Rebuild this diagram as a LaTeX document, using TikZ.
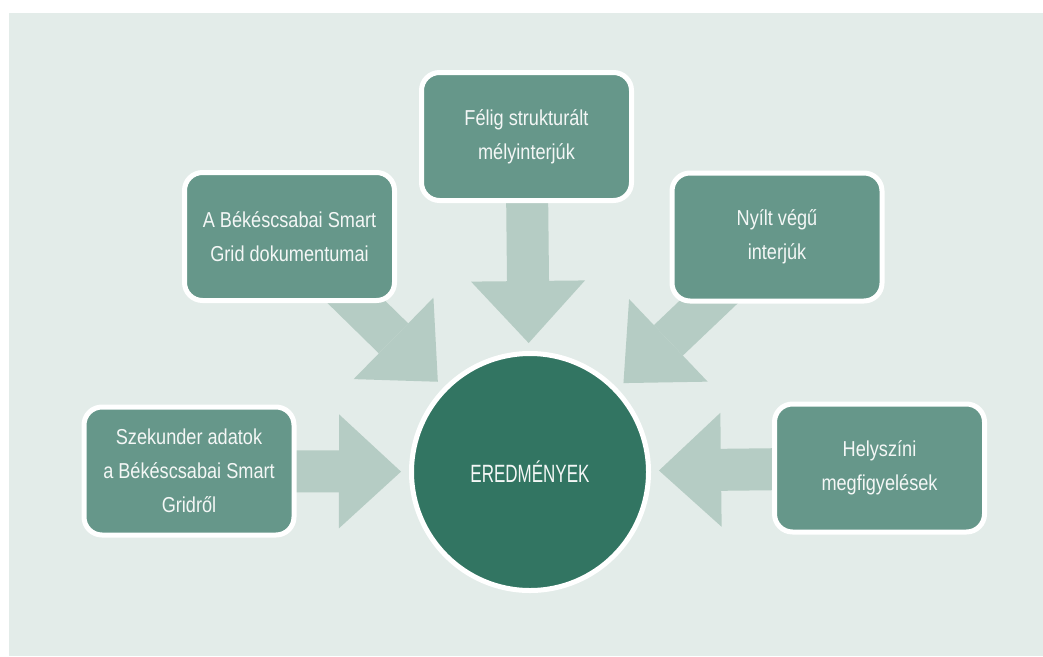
\documentclass[tikz,border=0pt]{standalone}
\usepackage{fontspec}
\newfontfamily\boxfont[FakeStretch=0.84]{Liberation Sans}
\newfontfamily\hubfont[FakeStretch=0.68]{Liberation Sans}
\usepackage{tikz}
\usetikzlibrary{arrows.meta,backgrounds}
\definecolor{panelbg}{HTML}{E3ECE9}
\definecolor{boxgreen}{HTML}{66978A}
\definecolor{hubgreen}{HTML}{327562}
\definecolor{arrowgreen}{HTML}{B5CCC4}
\definecolor{textwhite}{HTML}{F4F7F6}

\begin{document}
\begin{tikzpicture}[x=1pt, y=-1pt,
      srcbox/.style={draw=white, line width=5pt, fill=boxgreen, rounded corners=18pt,
        minimum width=210pt, minimum height=128pt, text=textwhite, align=center,
        font=\boxfont\fontsize{21.6pt}{34pt}\selectfont},
      hub/.style={circle, draw=white, line width=5pt, fill=hubgreen, minimum size=237pt,
        text=textwhite, font=\hubfont\fontsize{25pt}{30pt}\selectfont},
      fatarrow/.style={draw=arrowgreen, line width=42pt, shorten >=8pt,
        -{Triangle[length=62pt, width=114pt, line width=0pt]}}]
    \useasboundingbox (0,0) rectangle (1043,656);
    % result in the middle
    \node[hub] (eredm) at (530,472) {EREDMÉNYEK};
    % sources
    \node[srcbox] (szekunder) at (189,471) {Szekunder adatok\\a Békéscsabai Smart\\Gridről};
    \node[srcbox] (dokumentum) at (289.5,236.5) {A Békéscsabai Smart\\Grid dokumentumai};
    \node[srcbox] (melyinterju) at (526.5,136.5) {Félig strukturált\\mélyinterjúk};
    \node[srcbox] (nyilt) at (777,237) {Nyílt végű\\interjúk};
    \node[srcbox] (helyszini) at (879.5,468) {Helyszíni\\megfigyelések};
    % panel and fat arrows behind the boxes
    \begin{scope}[on background layer]
      \fill[panelbg] (9,13) rectangle (1043,656);
      \foreach \src in {szekunder,dokumentum,melyinterju,nyilt,helyszini}
        \draw[fatarrow] (\src.center) -- (eredm);
    \end{scope}
  \end{tikzpicture}
\end{document}
